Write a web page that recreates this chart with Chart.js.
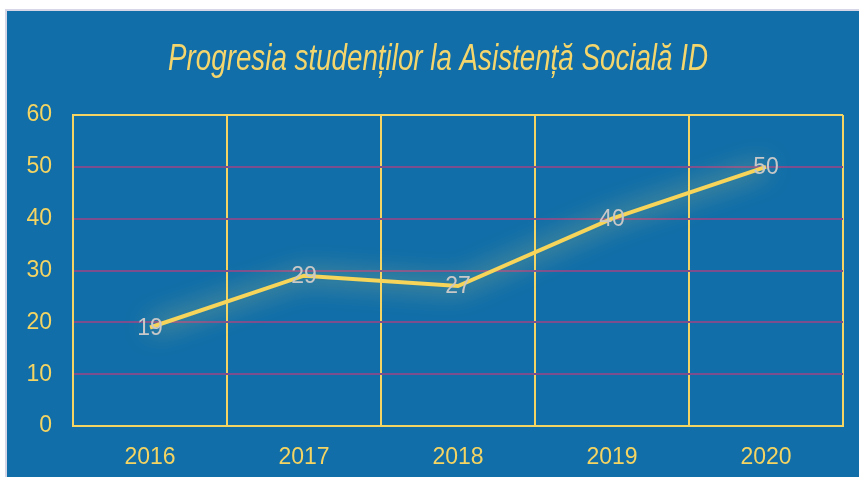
<!DOCTYPE html>
<html>
<head>
<meta charset="utf-8">
<script src="https://cdn.jsdelivr.net/npm/chart.js@4"></script>
<style>
  html, body { margin: 0; padding: 0; background: #fff; }
  #panel {
    position: absolute; left: 5px; top: 9px; width: 852px; height: 466px;
    background: #116ea8; border-left: 2px solid #d6d6e6; border-top: 2px solid #d6d6e6;
  }
</style>
</head>
<body>
<div id="panel"><canvas id="chart" width="852" height="466"></canvas></div>
<script>
// chart data
const years = ['2016', '2017', '2018', '2019', '2020'];
const students = [19, 29, 27, 40, 50];
const yTicks = [0, 10, 20, 30, 40, 50, 60];
const titleText = 'Progresia studenților la Asistență Socială ID';

const yellow = '#f4d462';
const sans = '"Liberation Sans", Arial, sans-serif';

// soft glow under the line
const glowPlugin = {
  id: 'glow',
  beforeDatasetDraw(chart) {
    const ctx = chart.ctx;
    ctx.save();
    ctx.shadowColor = 'rgba(250, 225, 110, 1)';
    ctx.shadowBlur = 26;
  },
  afterDatasetDraw(chart) {
    chart.ctx.restore();
  }
};

// value labels sitting on the points
const valueLabels = {
  id: 'valueLabels',
  afterDatasetsDraw(chart) {
    const ctx = chart.ctx;
    const meta = chart.getDatasetMeta(0);
    ctx.save();
    ctx.font = '23px ' + sans;
    ctx.fillStyle = '#c8c8c8';
    ctx.textAlign = 'center';
    ctx.textBaseline = 'middle';
    meta.data.forEach((pt, i) => {
      ctx.fillText(String(students[i]), pt.x, pt.y + 1);
    });
    ctx.restore();
  }
};

// condensed italic title (no condensed font installed, so squeeze it)
const condensedTitle = {
  id: 'condensedTitle',
  afterDraw(chart) {
    const ctx = chart.ctx;
    ctx.save();
    ctx.translate(431, 59);
    ctx.scale(0.75, 1);
    ctx.font = 'italic 37px ' + sans;
    ctx.fillStyle = '#f5d66c';
    ctx.textAlign = 'center';
    ctx.textBaseline = 'alphabetic';
    ctx.fillText(titleText, 0, 0);
    ctx.restore();
  }
};

new Chart(document.getElementById('chart'), {
  type: 'line',
  data: {
    labels: years,
    datasets: [{
      data: students,
      borderColor: '#f6d55a',
      borderWidth: 4,
      pointRadius: 0,
      tension: 0
    }]
  },
  options: {
    responsive: false,
    animation: false,
    layout: { padding: { left: 0, right: 16, top: 104, bottom: 0 } },
    plugins: {
      legend: { display: false },
      tooltip: { enabled: false },
      title: { display: false }
    },
    scales: {
      x: {
        offset: true,
        grid: { offset: true, color: yellow, lineWidth: 2, drawTicks: false },
        border: { color: yellow, width: 2 },
        ticks: { color: yellow, padding: 18, font: { family: sans, size: 23 } },
        afterFit(scale) { scale.height = 51; }
      },
      y: {
        min: 0,
        max: 60,
        afterBuildTicks(scale) { scale.ticks = yTicks.map(v => ({ value: v })); },
        grid: {
          color: ctx => (ctx.tick && (ctx.tick.value === 60 || ctx.tick.value === 0)) ? yellow : '#7c4e8e',
          lineWidth: 2,
          drawTicks: false
        },
        border: { color: yellow, width: 2 },
        ticks: { color: yellow, padding: 21, font: { family: sans, size: 23 } },
        afterFit(scale) { scale.width = 66; }
      }
    }
  },
  plugins: [glowPlugin, valueLabels, condensedTitle]
});
</script>
</body>
</html>
